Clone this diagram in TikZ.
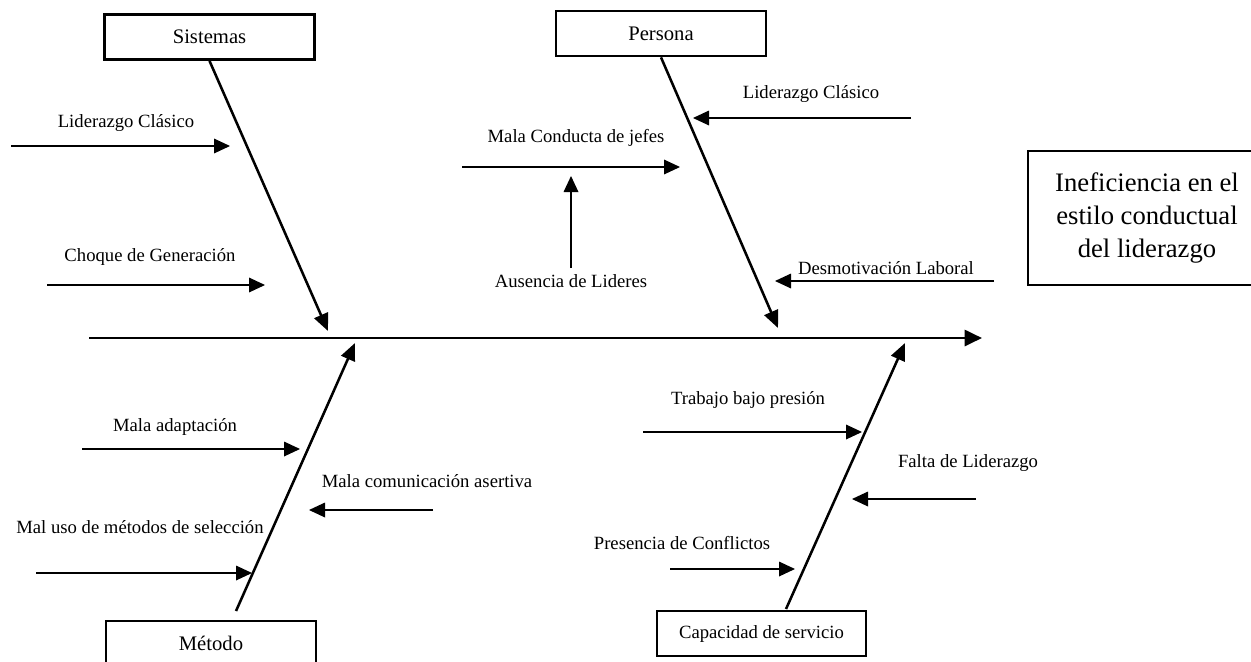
\documentclass[tikz,border=0pt]{standalone}
\usepackage{fontspec}
\setmainfont{Liberation Serif}
\usetikzlibrary{arrows.meta}
\begin{document}
\begin{tikzpicture}[x=0.75pt,y=-0.75pt,
  lbl/.style={font=\fontsize{14}{16}\selectfont, inner sep=0pt},
  catbox/.style={draw, line width=1.8pt, minimum width=157.5pt, minimum height=34pt, inner sep=0pt, font=\fontsize{15.5}{18}\selectfont},
  thinarrow/.style={line width=0.9pt, -{Triangle[length=12pt,width=11pt]}},
  bone/.style={line width=1.9pt, -{Triangle[length=13pt,width=11pt]}},
  spine/.style={line width=2.1pt, -{Triangle[length=13pt,width=12pt]}}]
\useasboundingbox (0,0) rectangle (1251,661);

% effect box
\node[draw, line width=1.8pt, minimum width=178.5pt, minimum height=100.5pt, inner sep=0pt,
      align=center, font=\fontsize{20}{24.75}\selectfont] (eff) at (1147,218)
  {Ineficiencia en el\\estilo conductual\\del liderazgo};

% spine
\coordinate (sp0) at (89,338);
\coordinate (sp1) at (982,338);
\draw[spine] (sp0) -- (sp1);

% category boxes
\node[catbox] (sis) at (209.5,37) {Sistemas};
\node[catbox] (per) at (661,33.5) {Persona};
\node[catbox, minimum height=33pt] (met) at (211,643) {Método};
\node[catbox, minimum width=156.75pt, minimum height=33.75pt, font=\fontsize{14}{16}\selectfont] (cap) at (761.5,633.5) {Capacidad de servicio};

% bones
\coordinate (sisE) at (328,331);
\coordinate (perE) at (778,328);
\coordinate (metS) at (236,611);
\coordinate (metE) at (355,343);
\coordinate (capS) at (786,609);
\coordinate (capE) at (905,343);
\draw[bone] (sis.south) -- (sisE);
\draw[bone] (per.south) -- (perE);
\draw[bone] (metS) -- (metE);
\draw[bone] (capS) -- (capE);

% Sistemas causes
\node[lbl] (lc1) at (126,123) {Liderazgo Clásico};
\coordinate (lc1a) at (11,146); \coordinate (lc1b) at (230,146);
\draw[thinarrow] (lc1a) -- (lc1b);
\node[lbl] (cg) at (150,257) {Choque de Generación};
\coordinate (cga) at (47,285); \coordinate (cgb) at (265,285);
\draw[thinarrow] (cga) -- (cgb);

% Persona causes
\node[lbl] (lc2) at (811,94) {Liderazgo Clásico};
\coordinate (lc2a) at (911,118); \coordinate (lc2b) at (693,118);
\draw[thinarrow] (lc2a) -- (lc2b);
\node[lbl] (mcj) at (576,138) {Mala Conducta de jefes};
\coordinate (mcja) at (462,167); \coordinate (mcjb) at (680,167);
\draw[thinarrow] (mcja) -- (mcjb);
\node[lbl] (adl) at (571,281) {Ausencia de Lideres};
\coordinate (adla) at (571,268); \coordinate (adlb) at (571,176);
\draw[thinarrow] (adla) -- (adlb);
\node[lbl] (dl) at (886,268) {Desmotivación Laboral};
\coordinate (dla) at (994,281); \coordinate (dlb) at (775,281);
\draw[thinarrow] (dla) -- (dlb);

% Método causes
\node[lbl] (ma) at (175,427) {Mala adaptación};
\coordinate (maa) at (82,449); \coordinate (mab) at (300,449);
\draw[thinarrow] (maa) -- (mab);
\node[lbl] (mu) at (140,527) {Mal uso de métodos de selección};
\coordinate (mua) at (36,573); \coordinate (mub) at (252,573);
\draw[thinarrow] (mua) -- (mub);
\node[lbl] (mca) at (427,481) {Mala comunicación asertiva};
\coordinate (mcaa) at (433,510); \coordinate (mcab) at (309,510);
\draw[thinarrow] (mcaa) -- (mcab);

% Capacidad causes
\node[lbl] (tbp) at (748,400) {Trabajo bajo presión};
\coordinate (tbpa) at (643,432); \coordinate (tbpb) at (862,432);
\draw[thinarrow] (tbpa) -- (tbpb);
\node[lbl] (fl) at (968,463) {Falta de Liderazgo};
\coordinate (fla) at (976,499); \coordinate (flb) at (852,499);
\draw[thinarrow] (fla) -- (flb);
\node[lbl] (pc) at (682,543) {Presencia de Conflictos};
\coordinate (pca) at (670,569); \coordinate (pcb) at (795,569);
\draw[thinarrow] (pca) -- (pcb);
\end{tikzpicture}
\end{document}
